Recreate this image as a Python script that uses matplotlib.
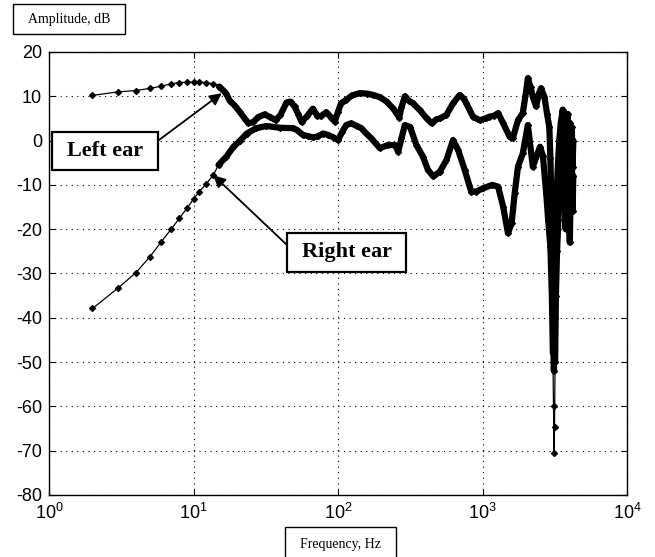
import numpy as np
import matplotlib.pyplot as plt
from matplotlib.patches import Rectangle

plt.rcParams['font.family'] = ['Liberation Sans Narrow', 'Liberation Sans', 'DejaVu Sans']
plt.rcParams['mathtext.fontset'] = 'custom'
plt.rcParams['mathtext.rm'] = 'Liberation Sans'
plt.rcParams['mathtext.it'] = 'Liberation Sans'
plt.rcParams['axes.unicode_minus'] = False

# (Hz, dB)
left_f = [2, 3, 4, 5, 6, 7, 8, 9, 10, 11, 12.3, 13.7, 15.1, 16.2, 16.9, 17.8, 19.3,
          21, 22.7, 24, 26, 28, 31, 34, 37, 40, 44, 47, 50, 53, 56, 61, 67, 72, 76,
          83, 90, 95, 100, 105, 114, 125, 141, 160, 175, 195, 217, 240, 254, 265,
          275, 290, 310, 331, 370, 411, 445, 480, 507, 563, 625, 695, 740, 773, 860,
          955, 1050, 1115, 1200, 1283, 1390, 1540, 1620, 1760, 1900, 2010, 2060,
          2150, 2230, 2350, 2450, 2540, 2680, 2800, 2900, 2950, 3000, 3050, 3090,
          3120, 3160, 3200, 3260, 3330, 3400, 3480, 3560, 3590, 3640, 3700, 3760,
          3820, 3880, 3950, 4020, 4080, 4150, 4200, 4250]
left_db = [10.2, 11.0, 11.3, 11.8, 12.3, 12.8, 13.1, 13.2, 13.2, 13.2, 13.1, 12.8,
           12.2, 11.2, 10.5, 9.0, 7.9, 6.4, 4.9, 3.9, 4.2, 5.3, 5.9, 5.3, 4.6, 5.8,
           8.6, 8.8, 7.7, 6.0, 4.2, 5.5, 7.2, 5.6, 5.5, 6.4, 5.2, 4.3, 6.5, 8.4,
           9.2, 10.2, 10.7, 10.6, 10.3, 9.8, 8.8, 7.3, 6.2, 5.2, 7.5, 10.0, 9.0,
           8.4, 6.8, 5.0, 3.9, 4.8, 5.0, 5.8, 8.4, 10.3, 9.5, 8.4, 5.4, 4.6, 5.0,
           5.4, 5.6, 6.2, 3.9, 0.9, 0.5, 4.6, 6.2, 11.4, 14.1, 12.0, 9.9, 7.7,
           10.5, 11.8, 9.9, 6.0, 3.0, -4, -15, -30, -45, -52, -40, -25, -12, -5,
           0, 4, 6, 7, 5, 0, -6, 2, 6, -2, 4, -4, 3, -6, 0]

right_f = [2, 3, 4, 5, 6, 7, 8, 9, 10, 11, 12.2, 13.7, 14.9, 16.9, 18.9, 21, 23.4,
           27.2, 32, 39.6, 49, 52, 57, 62, 67.5, 73, 78.8, 85, 92, 100, 107, 114,
           123, 135, 145, 158, 170, 195, 222, 248, 261, 275, 290, 315, 349, 387,
           419, 457, 507, 563, 625, 678, 753, 835, 905, 1003, 1170, 1283, 1390,
           1500, 1590, 1670, 1760, 1900, 2060, 2230, 2500, 2620, 2760, 2850, 2950,
           3020, 3070, 3100, 3125, 3150, 3180, 3220, 3280, 3350, 3430, 3500, 3560,
           3590, 3640, 3700, 3760, 3820, 3880, 3950, 4020, 4080, 4150, 4200, 4250]
right_db = [-37.9, -33.3, -29.8, -26.2, -22.8, -20.0, -17.5, -15.3, -13.2, -11.5,
            -9.8, -7.8, -5.5, -3.6, -1.4, 0.0, 1.6, 2.8, 3.3, 2.9, 2.8, 2.4, 1.3,
            1.0, 0.7, 1.0, 1.6, 1.3, 0.8, 0.1, 2.0, 3.5, 3.9, 3.3, 2.8, 1.5, 0.5,
            -1.7, -1.0, -1.0, -2.5, 0.5, 3.5, 3.1, -1.0, -3.6, -6.6, -8.1, -7.0,
            -4.4, 0.1, -2.1, -6.6, -11.5, -11.5, -10.8, -10.0, -10.4, -14.9, -20.9,
            -18.7, -11.9, -5.9, -2.9, 3.5, -5.9, -1.4, -3.5, -11.9, -18, -24, -35,
            -48, -60, -70.6, -64.6, -50, -35, -25, -18, -12, -5, 1, 5, 0, -10, -20,
            -12, -4, -15, -23, -10, -2, -16, -8]

xticks = [1, 10, 100, 1000, 10000]
xticklabels = ['$10^{0}$', '$10^{1}$', '$10^{2}$', '$10^{3}$', '$10^{4}$']
yticks = list(range(-80, 21, 10))

W, H = 655, 557
fig = plt.figure(figsize=(W / 100, H / 100), dpi=100)
ax = fig.add_axes([49 / W, 1 - 495 / H, 578 / W, 443 / H])


def draw(f, db):
    f = np.array(f)
    db = np.array(db)
    ax.plot(f, db, '-', color='k', lw=0.9, marker='D', ms=3)
    thick = np.where((f >= 14) & (db > -56), db, np.nan)
    ax.plot(f, thick, '-', color='k', lw=4.5, solid_joinstyle='round',
            solid_capstyle='round')


draw(left_f, left_db)
draw(right_f, right_db)

ax.set_xscale('log')
ax.set_xlim(1, 10000)
ax.set_ylim(-80, 20)
ax.set_xticks(xticks)
ax.set_xticklabels(xticklabels, fontsize=12)
ax.minorticks_off()
ax.set_yticks(yticks)
ax.tick_params(direction='in', labelsize=13, length=4, top=True, right=True,
               labeltop=False, labelright=False)
ax.tick_params(axis='x', pad=6)
ax.tick_params(axis='y', pad=5)
ax.grid(True, linestyle=(0, (1, 4)), color='k', lw=0.8)
for s in ax.spines.values():
    s.set_linewidth(1.0)

serif = ['Liberation Serif', 'DejaVu Serif']


def box(x0, y0, x1, y1, text, size, weight='normal', lw=1.0):
    # box corners in pixels measured from the top-left of the image
    fig.patches.append(Rectangle((x0 / W, 1 - y1 / H), (x1 - x0) / W, (y1 - y0) / H,
                                 transform=fig.transFigure, fc='white', ec='k',
                                 lw=lw, zorder=4))
    fig.text((x0 + x1) / 2 / W, 1 - (y0 + y1) / 2 / H, text, family=serif,
             fontsize=size, weight=weight, ha='center', va='center', zorder=5)


box(13, 4, 125, 34, 'Amplitude, dB', 10)
box(285, 527, 396, 562, 'Frequency, Hz', 10)
box(52, 132, 158, 170, 'Left ear', 16, 'bold', 1.6)
box(287, 233, 406, 272, 'Right ear', 16, 'bold', 1.6)

ax.annotate('', xy=(15.7, 10.7), xycoords='data',
            xytext=(159, H - 140), textcoords='figure pixels',
            arrowprops=dict(arrowstyle='-|>', color='k', lw=1.3,
                            mutation_scale=18, shrinkA=0, shrinkB=0))
ax.annotate('', xy=(13.7, -7.8), xycoords='data',
            xytext=(287, H - 245), textcoords='figure pixels',
            arrowprops=dict(arrowstyle='-|>', color='k', lw=1.3,
                            mutation_scale=18, shrinkA=0, shrinkB=0))

fig.savefig('out.png', dpi=100)
